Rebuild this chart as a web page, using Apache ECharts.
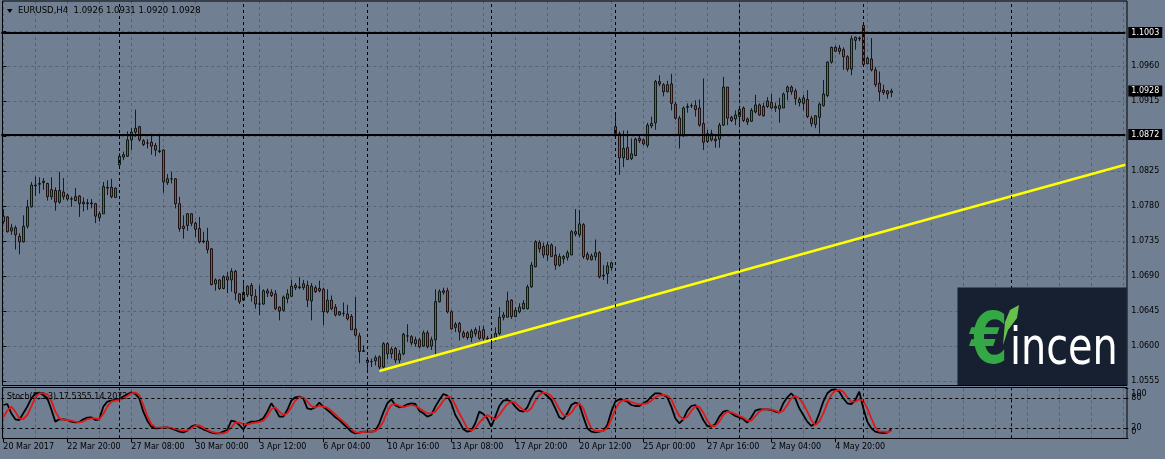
<!DOCTYPE html>
<html><head><meta charset="utf-8">
<script src="https://cdn.jsdelivr.net/npm/echarts@6/dist/echarts.min.js"></script>
<style>html,body{margin:0;padding:0;background:#717f92;}#c{width:1165px;height:459px;}</style>
</head><body><div id="c"></div>
<script>
const symbolName = 'EURUSD,H4';
const opens = [
1.0760,1.0766,1.0748,1.0752,1.0741,1.0734,1.0754,1.0779,1.0806,1.0808,
1.0810,1.0809,1.0792,1.0800,1.0785,1.0798,1.0794,1.0789,1.0787,1.0793,
1.0783,1.0784,1.0783,1.0783,1.0765,1.0770,1.0804,1.0804,1.0791,1.0833,
1.0843,1.0844,1.0865,1.0875,1.0882,1.0864,1.0861,1.0862,1.0858,1.0850,
1.0852,1.0810,1.0815,1.0815,1.0783,1.0754,1.0755,1.0770,1.0758,1.0751,
1.0735,1.0735,1.0725,1.0680,1.0685,1.0674,1.0689,1.0685,1.0696,1.0667,
1.0659,1.0666,1.0678,1.0664,1.0654,1.0654,1.0671,1.0669,1.0667,1.0650,
1.0646,1.0661,1.0664,1.0678,1.0675,1.0675,1.0678,1.0658,1.0675,1.0674,
1.0673,1.0644,1.0659,1.0650,1.0640,1.0642,1.0641,1.0638,1.0622,1.0613,
1.0594,1.0582,1.0580,1.0581,1.0586,1.0573,1.0603,1.0590,1.0597,1.0582,
1.0590,1.0613,1.0612,1.0603,1.0608,1.0600,1.0617,1.0600,1.0608,1.0657,
1.0671,1.0671,1.0644,1.0624,1.0629,1.0617,1.0617,1.0611,1.0621,1.0619,
1.0621,1.0610,1.0609,1.0608,1.0616,1.0637,1.0637,1.0659,1.0638,1.0644,
1.0648,1.0648,1.0676,1.0702,1.0733,1.0728,1.0717,1.0730,1.0717,1.0704,
1.0712,1.0714,1.0717,1.0747,1.0743,1.0756,1.0718,1.0711,1.0715,1.0720,
1.0691,1.0693,1.0701,1.0882,1.0873,1.0842,1.0855,1.0841,1.0845,1.0867,
1.0865,1.0858,1.0883,1.0887,1.0940,1.0936,1.0927,1.0937,1.0911,1.0893,
1.0870,1.0907,1.0909,1.0909,1.0906,1.0886,1.0863,1.0873,1.0866,1.0866,
1.0884,1.0933,1.0894,1.0892,1.0895,1.0906,1.0892,1.0889,1.0901,1.0910,
1.0908,1.0908,1.0913,1.0906,1.0905,1.0906,1.0927,1.0933,1.0928,1.0913,
1.0912,1.0917,1.0893,1.0885,1.0894,1.0909,1.0922,1.0965,1.0984,1.0979,
1.0981,1.0972,1.0956,1.0993,1.0996,1.1012,1.0963,1.0969,1.0955,1.0938,
1.0929,1.0928,1.0926];
const highs = [
1.0776,1.0767,1.0757,1.0755,1.0745,1.0768,1.0788,1.0811,1.0818,1.0817,
1.0816,1.0810,1.0817,1.0804,1.0824,1.0816,1.0796,1.0792,1.0803,1.0794,
1.0791,1.0789,1.0789,1.0784,1.0773,1.0811,1.0813,1.0815,1.0804,1.0848,
1.0850,1.0876,1.0880,1.0904,1.0883,1.0866,1.0866,1.0873,1.0861,1.0873,
1.0853,1.0821,1.0824,1.0816,1.0792,1.0768,1.0771,1.0771,1.0760,1.0766,
1.0747,1.0752,1.0726,1.0687,1.0686,1.0691,1.0695,1.0700,1.0698,1.0668,
1.0681,1.0678,1.0681,1.0673,1.0678,1.0673,1.0674,1.0673,1.0672,1.0651,
1.0665,1.0673,1.0685,1.0681,1.0689,1.0685,1.0684,1.0681,1.0678,1.0684,
1.0675,1.0673,1.0665,1.0654,1.0645,1.0656,1.0653,1.0641,1.0663,1.0617,
1.0601,1.0586,1.0584,1.0588,1.0588,1.0605,1.0605,1.0599,1.0599,1.0595,
1.0617,1.0628,1.0614,1.0612,1.0610,1.0620,1.0620,1.0612,1.0673,1.0673,
1.0675,1.0675,1.0646,1.0631,1.0631,1.0620,1.0619,1.0622,1.0624,1.0626,
1.0626,1.0613,1.0613,1.0624,1.0650,1.0644,1.0670,1.0660,1.0650,1.0655,
1.0659,1.0679,1.0708,1.0736,1.0736,1.0733,1.0734,1.0732,1.0728,1.0719,
1.0717,1.0723,1.0749,1.0776,1.0775,1.0758,1.0721,1.0719,1.0737,1.0722,
1.0704,1.0708,1.0708,1.0898,1.0876,1.0877,1.0877,1.0867,1.0868,1.0870,
1.0867,1.0887,1.0895,1.0942,1.0948,1.0938,1.0941,1.0950,1.0914,1.0896,
1.0908,1.0912,1.0912,1.0916,1.0917,1.0944,1.0878,1.0878,1.0871,1.0887,
1.0946,1.0933,1.0896,1.0903,1.0908,1.0908,1.0894,1.0906,1.0923,1.0912,
1.0913,1.0920,1.0924,1.0913,1.0919,1.0926,1.0935,1.0935,1.0931,1.0920,
1.0923,1.0929,1.0896,1.0897,1.0913,1.0942,1.0966,1.0985,1.0986,1.0987,
1.0984,1.0974,1.0999,1.0998,1.0998,1.1015,1.0972,1.0996,1.0959,1.0953,
1.0936,1.0929,1.0931];
const lows = [
1.0757,1.0746,1.0743,1.0724,1.0718,1.0733,1.0751,1.0778,1.0793,1.0796,
1.0801,1.0787,1.0788,1.0774,1.0783,1.0788,1.0787,1.0779,1.0786,1.0766,
1.0773,1.0775,1.0777,1.0758,1.0760,1.0770,1.0794,1.0790,1.0791,1.0828,
1.0839,1.0843,1.0852,1.0869,1.0863,1.0857,1.0854,1.0846,1.0844,1.0848,
1.0797,1.0807,1.0809,1.0777,1.0747,1.0738,1.0748,1.0754,1.0740,1.0732,
1.0732,1.0719,1.0678,1.0671,1.0672,1.0673,1.0668,1.0670,1.0659,1.0654,
1.0658,1.0663,1.0657,1.0648,1.0640,1.0653,1.0663,1.0663,1.0646,1.0633,
1.0644,1.0655,1.0663,1.0672,1.0673,1.0672,1.0650,1.0633,1.0668,1.0669,
1.0627,1.0642,1.0646,1.0638,1.0639,1.0638,1.0633,1.0621,1.0612,1.0578,
1.0593,1.0569,1.0573,1.0575,1.0568,1.0571,1.0583,1.0584,1.0578,1.0578,
1.0588,1.0605,1.0601,1.0599,1.0597,1.0599,1.0597,1.0595,1.0588,1.0656,
1.0666,1.0642,1.0621,1.0618,1.0607,1.0610,1.0608,1.0605,1.0612,1.0608,
1.0607,1.0607,1.0600,1.0606,1.0614,1.0633,1.0637,1.0635,1.0637,1.0642,
1.0647,1.0647,1.0675,1.0701,1.0720,1.0713,1.0710,1.0715,1.0698,1.0702,
1.0706,1.0710,1.0717,1.0741,1.0740,1.0712,1.0710,1.0710,1.0710,1.0687,
1.0685,1.0680,1.0697,1.0870,1.0820,1.0830,1.0839,1.0839,1.0844,1.0861,
1.0858,1.0855,1.0880,1.0878,1.0934,1.0921,1.0926,1.0903,1.0891,1.0854,
1.0869,1.0900,1.0906,1.0895,1.0882,1.0852,1.0861,1.0863,1.0855,1.0855,
1.0883,1.0884,1.0888,1.0884,1.0883,1.0888,1.0884,1.0888,1.0899,1.0896,
1.0895,1.0906,1.0905,1.0901,1.0887,1.0906,1.0916,1.0923,1.0910,1.0908,
1.0903,1.0893,1.0882,1.0880,1.0873,1.0908,1.0920,1.0963,1.0978,1.0975,
1.0955,1.0953,1.0948,1.0981,1.0992,1.0961,1.0962,1.0953,1.0933,1.0915,
1.0923,1.0918,1.0920];
const closes = [
1.0767,1.0747,1.0752,1.0743,1.0734,1.0754,1.0779,1.0807,1.0807,1.0809,
1.0812,1.0792,1.0801,1.0785,1.0800,1.0792,1.0789,1.0789,1.0792,1.0783,
1.0785,1.0783,1.0784,1.0767,1.0770,1.0805,1.0803,1.0792,1.0803,1.0844,
1.0846,1.0865,1.0875,1.0880,1.0865,1.0859,1.0861,1.0857,1.0852,1.0851,
1.0811,1.0815,1.0815,1.0783,1.0751,1.0751,1.0770,1.0758,1.0750,1.0734,
1.0734,1.0724,1.0679,1.0685,1.0674,1.0689,1.0685,1.0696,1.0668,1.0657,
1.0669,1.0677,1.0665,1.0654,1.0654,1.0671,1.0668,1.0665,1.0648,1.0645,
1.0663,1.0667,1.0677,1.0675,1.0676,1.0680,1.0659,1.0677,1.0670,1.0671,
1.0644,1.0659,1.0648,1.0640,1.0644,1.0642,1.0635,1.0621,1.0614,1.0593,
1.0593,1.0579,1.0580,1.0585,1.0573,1.0603,1.0590,1.0596,1.0582,1.0590,
1.0615,1.0613,1.0604,1.0608,1.0599,1.0617,1.0599,1.0608,1.0657,1.0670,
1.0669,1.0644,1.0622,1.0628,1.0618,1.0612,1.0611,1.0619,1.0616,1.0610,
1.0610,1.0609,1.0610,1.0616,1.0637,1.0640,1.0658,1.0638,1.0646,1.0650,
1.0655,1.0676,1.0704,1.0734,1.0725,1.0717,1.0730,1.0715,1.0704,1.0715,
1.0715,1.0720,1.0747,1.0744,1.0757,1.0715,1.0712,1.0716,1.0720,1.0689,
1.0690,1.0703,1.0707,1.0873,1.0842,1.0854,1.0840,1.0847,1.0866,1.0864,
1.0860,1.0884,1.0886,1.0940,1.0937,1.0927,1.0936,1.0912,1.0893,1.0871,
1.0906,1.0908,1.0909,1.0904,1.0884,1.0862,1.0873,1.0865,1.0864,1.0884,
1.0933,1.0893,1.0890,1.0897,1.0904,1.0890,1.0888,1.0903,1.0910,1.0897,
1.0896,1.0915,1.0906,1.0908,1.0909,1.0924,1.0933,1.0927,1.0918,1.0917,
1.0919,1.0895,1.0886,1.0896,1.0911,1.0924,1.0965,1.0984,1.0979,1.0983,
1.0972,1.0956,1.0995,1.0997,1.0995,1.0962,1.0970,1.0955,1.0936,1.0927,
1.0926,1.0924,1.0928];
const stochK = [
66.6,68.6,50,38,36.6,50,63.3,80,89,91.3,
86.6,80,58,33.3,38,38,36.6,33.3,32,32.6,
38,41.3,42,36.6,38,63.3,73.3,75.3,76.6,78.6,
83.3,88,92,89,80,53.3,35.3,23.3,20,20.6,
21.3,22,20,16.6,13.3,12,15.3,23.3,26.6,22,
18,14.6,11.3,10,10,13.3,16.6,35.3,33.3,26.6,
18,30,33.3,33.3,35.3,40,53.3,70,58,43.3,
43.3,56.6,75.3,82,83.3,80,60,58,62,71.3,
63.3,56.6,50,42,36.6,28.6,21.3,13.3,10,11.3,
13.3,13.3,13.3,14.6,30,51.3,70,78,66,62,
63.3,68,70,68.6,55.3,50,43.3,46.6,63.3,76.6,
88.6,85.3,70,46.6,33.3,18,13.3,15.3,30,53.3,
48.6,40,23.3,43.3,64.6,75.3,76.6,73.3,63.3,55.3,
53.3,62,80,93.3,95.3,91.3,84.6,76.6,60,42,
38,50,66.6,71.3,68.6,43.3,20,13.3,12,13.3,
15.3,26.6,53.3,73.3,78,76.6,73.3,66.6,64.6,64.6,
70,74.6,83.3,90,90,86.6,82,63.3,40,30,
38,55.3,64.6,66.6,53.3,36.6,24.6,23.3,28.6,43.3,
53.3,55.3,50,44.6,42,38,31.3,42,55.3,58,
58,58,56.6,53.3,51.3,70,82,90,80,60,
46.6,33.3,24.6,30,50,73.3,90,96.6,98,93.3,
80,70,68.6,76.6,93.3,60,33.3,20,13.3,11.3,
10.6,11.3,17.5355];
const stochD = [
42,55.3,63.3,53.3,40,38.6,46.6,63.3,82,90,
90,88,75.3,53.3,40,37.3,36.6,35.3,33.3,32,
34,38,40,40,38,48.6,63.3,73.3,75.3,76.6,
80,84.6,90,91.3,86.6,66.6,44.6,28.6,22,21.3,
21.3,22,20.6,18.6,16.6,15.3,16,20,25.3,26,
21.3,16.6,13.3,11.3,10,10,13.3,21.3,31.3,31.3,
28.6,28,30,31.3,32.6,35.3,44.6,58,62,53.3,
46.6,50,62,75.3,82,82,73.3,64.6,62,64.6,
63.3,61.3,55.3,48,40,33.3,26.6,18,12,11.3,
12.6,13.3,13.3,14.6,20,33.3,53.3,66.6,68.6,65,
62,64.6,66.6,64.6,60,54.6,50,50,53.3,63.3,
75.3,83.3,82,66.6,50,35.3,20,15.3,20,31.3,
40,46.6,42,38,46.6,58,68.6,73.3,71.3,63.3,
56.6,53.3,60,75.3,86.6,91.3,90,84.6,73.3,58,
46.6,44.6,51.3,63.3,70,60,38,20,14.6,14.6,
14.6,20,38,58,71.3,76.6,76,72.6,70,68,
68.6,70,75.3,82,86,86.6,85.3,78,60,44.6,
38,43.3,55.3,63.3,63.3,51.3,35.3,24.6,24.6,33.3,
46.6,53.3,52,48.6,44.6,41.3,35.3,35.3,44.6,53.3,
58,58,57.3,55.3,52,55.3,66.6,80,84.6,80,
68.6,53.3,36.6,26.6,33.3,50,70,86.6,95.3,96.6,
93.3,82,73.3,73.3,78,75.3,60,40,22,13.3,
13.3,12.6,14.2072];
const timeLabels = ['20 Mar 2017','22 Mar 20:00','27 Mar 08:00','30 Mar 00:00','3 Apr 12:00','6 Apr 04:00','10 Apr 16:00','13 Apr 08:00','17 Apr 20:00','20 Apr 12:00','25 Apr 00:00','27 Apr 16:00','2 May 04:00','4 May 20:00'];
const priceTicks = [1.0555,1.0600,1.0645,1.0690,1.0735,1.0780,1.0825,1.0870,1.0915,1.0960,1.1005];
const priceLabels = [1.0555,1.0600,1.0645,1.0690,1.0735,1.0780,1.0825,1.0915,1.0960];
const stochTicks = [0,20,80,100];
const stochInnerLabels = [20,80];
const stochEdgeLabels = [0,100];
const weekSeparators = [29,60,91,122,153,184,215,252];
const horizontalLevels = [1.1003,1.0872];
const stochLevels = [80,20];
const trendPoints = [[94,1.0568],[280.5,1.0833]];

const slotCount = 281, labelStep = 16, gridStep = 8;
const categories = Array.from({length: slotCount}, (_, i) => String(i));
const last = closes.length - 1;
const FONT = 'DejaVu Sans';
const gridColor = 'rgba(55,65,80,0.45)';
const labelEvery = (i) => i % labelStep === 0 && i / labelStep < timeLabels.length;
const gridEvery = (i) => i % gridStep === 0;

const candles = opens.map((o, i) => [o, closes[i], lows[i], highs[i]]);
const boxLabel = {show: true, position: 'end', distance: 3, formatter: p => Number(p.value).toFixed(4),
  backgroundColor: '#000', color: '#fff', padding: [2, 3, 1, 3], fontSize: 8, fontFamily: FONT};
const axisText = {fontSize: 8, color: '#000', fontFamily: FONT};

const chart = echarts.init(document.getElementById('c'));
chart.setOption({
  animation: false,
  backgroundColor: '#717f92',
  textStyle: {fontFamily: FONT},
  grid: [
    {left: 1.3, top: 1, width: 1124, height: 384, outerBoundsMode: 'none'},
    {left: 1.3, top: 388.3, width: 1124, height: 50, outerBoundsMode: 'none'}
  ],
  xAxis: [
    {type: 'category', gridIndex: 0, data: categories, boundaryGap: true,
     axisLine: {show: false}, axisTick: {show: false}, axisLabel: {show: false},
     splitLine: {show: true, interval: gridEvery, alignWithLabel: true, lineStyle: {color: gridColor, type: [3, 3], width: 1}}},
    {type: 'value', gridIndex: 0, min: -0.5, max: slotCount - 0.5, show: false},
    {type: 'category', gridIndex: 1, data: categories, boundaryGap: true,
     axisLine: {show: false},
     axisTick: {show: true, interval: labelEvery, alignWithLabel: true, length: 4, lineStyle: {color: '#000'}},
     axisLabel: {show: true, interval: labelEvery, formatter: (v, i) => timeLabels[Math.round(i / labelStep)] || '',
       align: 'left', margin: 5, ...axisText, hideOverlap: false},
     splitLine: {show: true, interval: gridEvery, alignWithLabel: true, lineStyle: {color: gridColor, type: [3, 3], width: 1}}}
  ],
  yAxis: [
    {type: 'value', gridIndex: 0, position: 'right', min: 1.05499, max: 1.10436, scale: true,
     axisLine: {show: false},
     axisTick: {show: true, customValues: priceTicks, length: 3, lineStyle: {color: '#000'}},
     axisLabel: {show: true, customValues: priceLabels, formatter: v => Number(v).toFixed(4), margin: 6, ...axisText},
     splitLine: {show: true, lineStyle: {color: gridColor, type: [3, 3], width: 1}}},
    {type: 'value', gridIndex: 1, position: 'right', min: 0, max: 100,
     axisLine: {show: false},
     axisTick: {show: true, customValues: stochTicks, length: 3, lineStyle: {color: '#000'}},
     axisLabel: {show: true, customValues: stochInnerLabels, margin: 6, ...axisText},
     splitLine: {show: false}},
    {type: 'value', gridIndex: 1, position: 'right', min: 0, max: 100,
     axisLine: {show: false}, axisTick: {show: false}, splitLine: {show: false},
     axisLabel: {show: true, customValues: stochEdgeLabels, showMinLabel: true, showMaxLabel: true, hideOverlap: false,
       margin: 6, ...axisText,
       formatter: v => v === 100 ? '{dn|100}' : '{up|0}',
       rich: {dn: {padding: [11, 0, 0, 0], ...axisText}, up: {padding: [0, 0, 12, 0], ...axisText}}}}
  ],
  series: [
    {type: 'candlestick', xAxisIndex: 0, yAxisIndex: 0, data: candles, barWidth: 3,
     itemStyle: {color: '#2f8a2f', color0: '#d23430', borderColor: '#000', borderColor0: '#000', borderWidth: 0.8},
     markLine: {silent: true, symbol: 'none', animation: false, precision: 4,
       data: [
         ...weekSeparators.map(s => ({xAxis: s, label: {show: false}, lineStyle: {color: '#000', type: [3, 3], width: 1}})),
         ...horizontalLevels.map(v => ({yAxis: v, label: boxLabel, lineStyle: {color: '#000', type: 'solid', width: 2}})),
         {yAxis: closes[last], label: boxLabel, lineStyle: {color: 'rgba(0,0,0,0)', width: 1}}
       ]}},
    {type: 'line', xAxisIndex: 1, yAxisIndex: 0, data: trendPoints, symbol: 'none',
     lineStyle: {color: '#ffff00', width: 2.5}, z: 3},
    {type: 'line', xAxisIndex: 2, yAxisIndex: 1, data: stochK, symbol: 'none', showSymbol: false,
     lineStyle: {color: '#000', width: 1.8}},
    {type: 'line', xAxisIndex: 2, yAxisIndex: 1, data: stochD, symbol: 'none', showSymbol: false,
     lineStyle: {color: '#e01818', width: 1.8},
     markLine: {silent: true, symbol: 'none', animation: false, precision: 4, label: {show: false},
       data: [
         ...stochLevels.map(v => ({yAxis: v, lineStyle: {color: '#000', type: [3, 3], width: 1}})),
         ...weekSeparators.map(s => ({xAxis: s, lineStyle: {color: '#000', type: [3, 3], width: 1}}))
       ]}}
  ],
  graphic: [
    {type: 'rect', silent: true, z: 100, shape: {x: 2.5, y: 1, width: 1124.5, height: 384.5}, style: {fill: 'transparent', stroke: '#000', lineWidth: 1}},
    {type: 'rect', silent: true, z: 100, shape: {x: 2.5, y: 387.5, width: 1124.5, height: 51}, style: {fill: 'transparent', stroke: '#000', lineWidth: 1}},
    {type: 'polygon', silent: true, z: 100, shape: {points: [[7, 9], [12.5, 9], [9.75, 13]]}, style: {fill: '#000'}},
    {type: 'text', silent: true, z: 100, x: 18, y: 11,
     style: {text: symbolName + '  ' + [opens[last], highs[last], lows[last], closes[last]].map(v => v.toFixed(4)).join(' '),
       font: '8.5px "DejaVu Sans"', fill: '#000', verticalAlign: 'middle', textVerticalAlign: 'middle'}},
    {type: 'text', silent: true, z: 0, x: 7, y: 396.5,
     style: {text: 'Stoch(5,3,3) ' + stochK[last].toFixed(4) + ' ' + stochD[last].toFixed(4),
       font: '8px "DejaVu Sans"', fill: '#000', verticalAlign: 'middle', textVerticalAlign: 'middle'}},
    {type: 'rect', silent: true, z: 90, shape: {x: 957.5, y: 287.5, width: 169, height: 97.5}, style: {fill: '#172030'}},
    {type: 'text', silent: true, z: 95, x: 970, y: 380, scaleX: 0.85,
     style: {text: '€', font: 'bold 71px "Liberation Sans Narrow", "DejaVu Sans Condensed", sans-serif', fill: '#34a844', verticalAlign: 'bottom', textVerticalAlign: 'bottom'}},
    {type: 'polygon', silent: true, z: 96, shape: {points: [[1003, 345], [1005, 322], [1010, 310], [1019, 305], [1017, 318], [1008, 330]]}, style: {fill: '#68c04c'}},
    {type: 'text', silent: true, z: 95, x: 1010, y: 376, scaleX: 0.85,
     style: {text: 'incen', font: '52px "Liberation Sans Narrow", "DejaVu Sans Condensed", sans-serif', fill: '#ffffff', verticalAlign: 'bottom', textVerticalAlign: 'bottom'}}
  ]
});
</script></body></html>
